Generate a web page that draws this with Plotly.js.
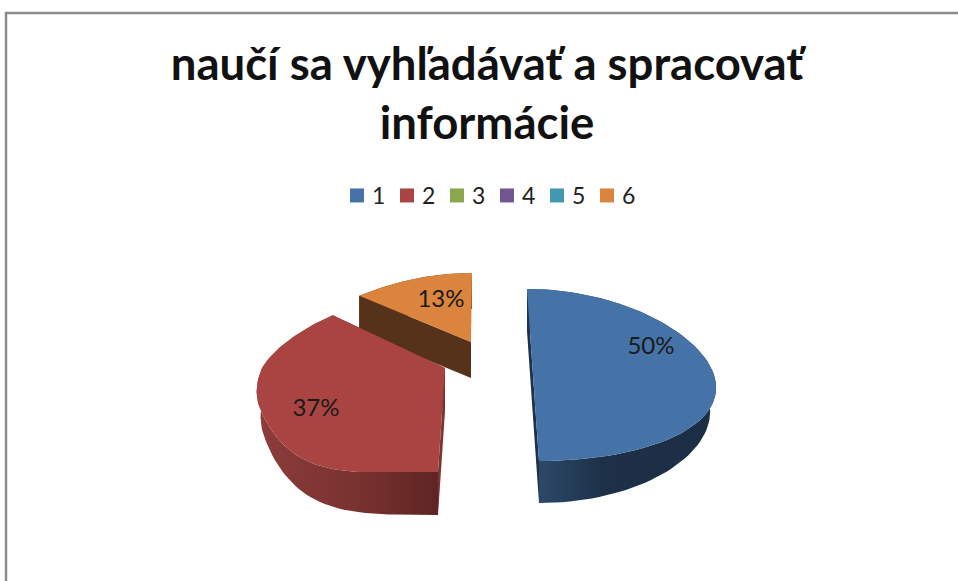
<!DOCTYPE html>
<html><head><meta charset="utf-8">
<script src="https://cdn.plot.ly/plotly-3.0.1.min.js"></script>
<style>html,body{margin:0;padding:0;background:#fff}#c{width:958px;height:581px}</style>
</head><body><div id="c"></div>
<script>
const titleText = 'naučí sa vyhľadávať a spracovať<br>informácie';
const categories = ['1','2','3','4','5','6'];
const counts = [15,11,0,0,0,4];
const colors = ['#4573a7','#a94442','#8aa64f','#71568f','#4198af','#db843d'];
const sideColors = [
  [[0,'#2c4869'],[0.35,'#1d3048'],[1,'#1c2e45']],
  [[0,'#8c3c3a'],[0.5,'#7a3331'],[1,'#5e2423']],
  null,null,null,
  [[0,'#57321a'],[1,'#57321a']]
];
const cutColors = ['#1d3149','#7c3432',null,null,null,'#57321a'];
// projected geometry of each exploded wedge (centre, radii, perspective, depth), in axis units
const wedgeView = {
  0:{cx:533,cy:375,rx:181,ryUp:86,ryDown:86,k:0.12,skew:6,depth:42,shrink:0.45,inset:6,full:0,gx:[540,720],label:[651,348]},
  1:{cx:445,cy:368,rx:183,ryUp:79,ryDown:104,k:0.21,skew:-7,depth:43,shrink:0.45,inset:4,full:3.5,gx:[260,440],label:[316,410]},
  5:{cx:471,cy:342,rx:176,ryUp:69,ryDown:80,k:0.21,skew:-1,depth:36,shrink:0,inset:0,full:0,gx:[360,472],label:[441,301]}
};
const total = counts.reduce((a,b)=>a+b,0);
function pt(v,t){
  const c=Math.cos(t), s=Math.sin(t), ac=Math.abs(c);
  const fy = (c<0 && ac>0.4) ? ac+v.full*(ac-0.4)*(ac-0.4)*(1-ac) : ac;
  return [v.cx+v.rx*s*(1-v.k*c)-v.skew*c, v.cy+(c>0?-fy*v.ryUp:fy*v.ryDown)];
}
function lower(v,t){
  const p=pt(v,t), s=Math.sin(t);
  return [p[0]-s*v.inset, p[1]+v.depth*(1-v.shrink*s*s)];
}
const traces=[], labelX=[], labelY=[], labelT=[];
let acc=0;
const wedges=[];
counts.forEach((n,i)=>{
  const a0=acc/total*2*Math.PI; acc+=n;
  const a1=acc/total*2*Math.PI;
  if(n>0) wedges.push({i,a0,a1});
});
function angles(a0,a1){
  const out=[], steps=80;
  for(let j=0;j<=steps;j++) out.push(a0+(a1-a0)*j/steps);
  return out;
}
function poly(points,fill,extra){
  const p=points.concat([points[0]]);
  return Object.assign({type:'scatter',mode:'lines',x:p.map(q=>q[0]),y:p.map(q=>q[1]),
    fill:'toself',fillcolor:fill,line:{width:0,color:fill},hoverinfo:'skip',showlegend:false},extra||{});
}
wedges.slice().reverse().forEach(w=>{
  const v=wedgeView[w.i], centre=[v.cx,v.cy], ts=angles(w.a0,w.a1);
  const a=ts.map(t=>pt(v,t)), b=ts.map(t=>lower(v,t));
  const dc=[v.cx,v.cy+v.depth];
  // outer wall
  const wall=a.concat(b.slice().reverse());
  traces.push(poly(wall,sideColors[w.i][0][1],{fillgradient:{type:'horizontal',colorscale:sideColors[w.i],start:v.gx[0],stop:v.gx[1]}}));
  // cut faces
  traces.push(poly([a[0],centre,dc,b[0]],cutColors[w.i]));
  traces.push(poly([a[a.length-1],centre,dc,b[b.length-1]],cutColors[w.i]));
  // top face
  traces.push(poly(a.concat([centre]),colors[w.i]));
  labelX.push(v.label[0]); labelY.push(v.label[1]);
  labelT.push(Math.round(counts[w.i]/total*100)+'%');
});
traces.push({type:'scatter',mode:'text',x:labelX,y:labelY,text:labelT,textposition:'middle center',
  textfont:{family:'Lato, sans-serif',size:24,color:'#1a1a1a'},hoverinfo:'skip',showlegend:false});
categories.forEach((c,i)=>{
  traces.push({type:'scatter',mode:'markers',name:c,x:[-100],y:[-100],
    marker:{symbol:'square',size:14,color:colors[i]},hoverinfo:'skip',showlegend:true});
});
const layout={
  width:958,height:581,margin:{l:0,r:0,t:0,b:0,pad:0},paper_bgcolor:'#fff',plot_bgcolor:'#fff',
  font:{family:'Lato, sans-serif',color:'#1a1a1a'},
  title:{text:titleText,x:487/958,xanchor:'center',y:1-80/581,yanchor:'top',font:{family:'Lato, sans-serif',size:45.5,weight:700,color:'#111'}},
  xaxis:{range:[0,958],visible:false,fixedrange:true},
  yaxis:{range:[581,0],visible:false,fixedrange:true},
  showlegend:true,
  legend:{orientation:'h',x:337/958,y:1-174/581,xanchor:'left',yanchor:'top',itemwidth:30,
    entrywidth:5,entrywidthmode:'pixels',font:{family:'Lato, sans-serif',size:23,color:'#222'},itemclick:false,itemdoubleclick:false,bgcolor:'rgba(0,0,0,0)'},
  shapes:[{type:'rect',xref:'x',yref:'y',x0:6,y0:13,x1:975,y1:600,line:{color:'#8c8c8c',width:2.5},fillcolor:'rgba(0,0,0,0)',layer:'below'}]
};
Plotly.newPlot('c',traces,layout,{displayModeBar:false,staticPlot:true}).then(gd=>{
  gd.querySelectorAll('.legendtext').forEach(t=>t.setAttribute('x','35'));
});
</script></body></html>
